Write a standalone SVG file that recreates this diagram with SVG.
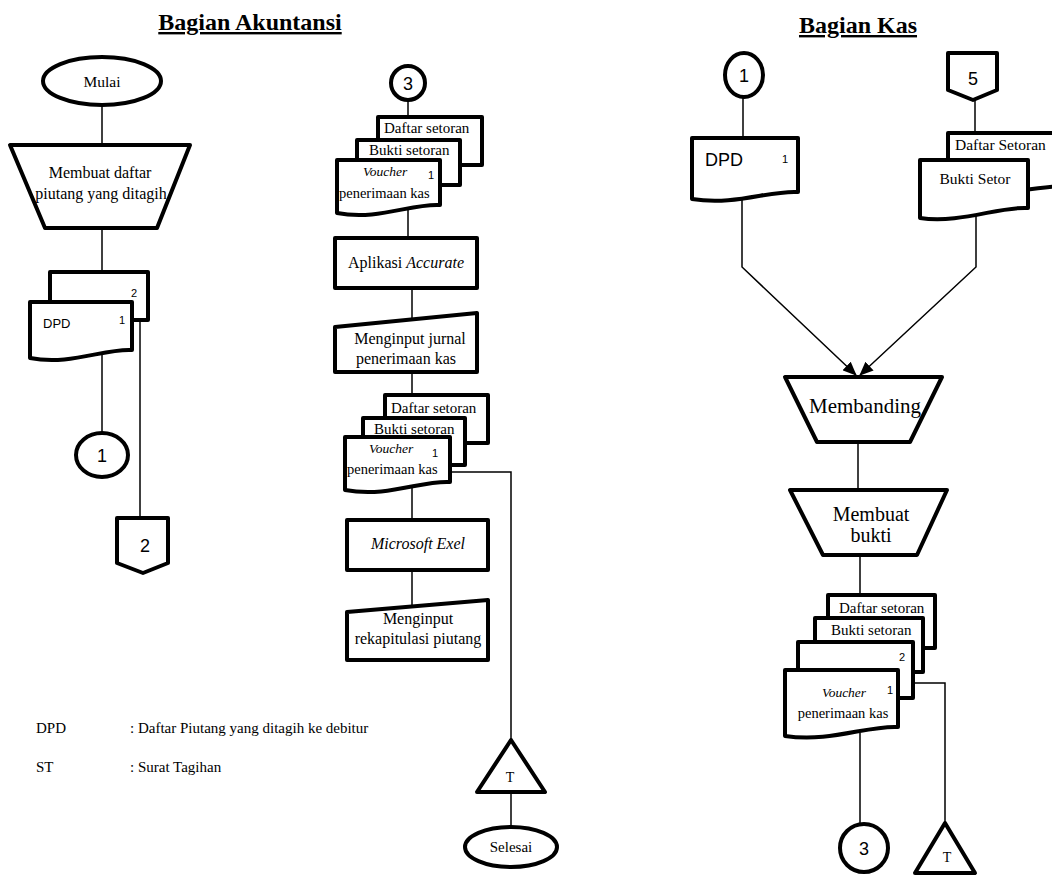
<svg xmlns="http://www.w3.org/2000/svg" width="1052" height="876" viewBox="0 0 1052 876">
<style>
.s{fill:#fff;stroke:#000;stroke-width:4;stroke-linejoin:round}
.c{fill:none;stroke:#000;stroke-width:1.5}
.t{font-family:"Liberation Serif","Times New Roman",serif;fill:#000}
.m{text-anchor:middle}
.i{font-style:italic}
.ss{font-family:"Liberation Sans",Arial,sans-serif;fill:#000}
.h{font-family:"Liberation Serif","Times New Roman",serif;font-weight:bold;font-size:24px;text-decoration:underline;text-anchor:middle}
</style>
<defs>
<marker id="ah" markerUnits="userSpaceOnUse" markerWidth="14" markerHeight="12" refX="13" refY="6" orient="auto"><path d="M0,0 L14,6 L0,12 Z" fill="#000"/></marker>
</defs>
<text class="h" x="250" y="30">Bagian Akuntansi</text>
<text class="h" x="858" y="33">Bagian Kas</text>
<g id="connectors">
<path class="c" d="M102,105 V145"/>
<path class="c" d="M102,228 V272"/>
<path class="c" d="M102,352 V433"/>
<path class="c" d="M140,320 V518"/>
<path class="c" d="M408,100 V117"/>
<path class="c" d="M408,210 V238"/>
<path class="c" d="M412,288 V318"/>
<path class="c" d="M412,372 V437"/>
<path class="c" d="M412,486 V520"/>
<path class="c" d="M412,570 V606"/>
<path class="c" d="M450,472 H511 V740"/>
<path class="c" d="M511,792 V828"/>
<path class="c" d="M743,97 V138"/>
<path class="c" d="M742,198 V267 L856,375" marker-end="url(#ah)"/>
<path class="c" d="M975,100 V133"/>
<path class="c" d="M976,214 V267 L860,375" marker-end="url(#ah)"/>
<path class="c" d="M858,442 V490"/>
<path class="c" d="M860,555 V595"/>
<path class="c" d="M860,733 V824"/>
<path class="c" d="M913,683 H945 V823"/>
</g>
<g id="mulai">
<ellipse class="s" cx="102" cy="81" rx="59" ry="24"/>
<text class="t m" x="102" y="87" font-size="15.5">Mulai</text>
</g>
<g id="membuat-daftar">
<path class="s" d="M10,145 H190 L157,228 H45 Z"/>
<text class="t m" x="100" y="178" font-size="16">Membuat daftar</text>
<text class="t m" x="101" y="199" font-size="16">piutang yang ditagih</text>
</g>
<g id="dpd-left">
<path class="s" d="M50,272 H148 V320 H50 Z"/>
<text class="ss" x="131" y="297" font-size="11">2</text>
<path class="s" d="M30,302 H132 V350 C105,348 70,366 30,358 Z"/>
<text class="ss" x="43" y="328" font-size="13">DPD</text>
<text class="ss" x="119" y="324" font-size="11">1</text>
</g>
<g id="conn1-left">
<ellipse class="s" cx="102" cy="455" rx="26" ry="22"/>
<text class="ss m" x="102" y="462" font-size="18">1</text>
</g>
<g id="offpage2">
<path class="s" d="M117,518 H168 V563 L143,573 L117,563 Z"/>
<text class="ss m" x="145" y="552" font-size="18">2</text>
</g>
<g id="conn3-top">
<circle class="s" cx="408" cy="83" r="17"/>
<text class="ss m" x="408" y="90" font-size="18">3</text>
</g>
<g id="stack1">
<path class="s" d="M378,117 H482 V165 H378 Z"/>
<text class="t" x="384" y="133" font-size="15">Daftar setoran</text>
<path class="s" d="M357,140 H460 V185 H357 Z"/>
<text class="t" x="369" y="155" font-size="15">Bukti setoran</text>
<path class="s" d="M337,160 H440 V205 C412,203 378,221 337,213 Z"/>
<text class="t i" x="363" y="176" font-size="13.5">Voucher</text>
<text class="ss" x="428" y="179" font-size="11">1</text>
<text class="t" x="339" y="198" font-size="14.5">penerimaan kas</text>
</g>
<g id="aplikasi">
<rect class="s" x="335" y="238" width="142" height="50"/>
<text class="t" x="406" y="268" font-size="16" text-anchor="middle">Aplikasi <tspan class="i">Accurate</tspan></text>
</g>
<g id="input-jurnal">
<path class="s" d="M335,327 L477,313 V372 H335 Z"/>
<text class="t m" x="410" y="344" font-size="16">Menginput jurnal</text>
<text class="t m" x="406" y="364" font-size="16">penerimaan kas</text>
</g>
<g id="stack2">
<path class="s" d="M385,395 H488 V443 H385 Z"/>
<text class="t" x="391" y="413" font-size="15">Daftar setoran</text>
<path class="s" d="M363,418 H465 V465 H363 Z"/>
<text class="t" x="374" y="434" font-size="15">Bukti setoran</text>
<path class="s" d="M345,437 H450 V482 C422,480 388,498 345,490 Z"/>
<text class="t i" x="369" y="453" font-size="13.5">Voucher</text>
<text class="ss" x="432" y="457" font-size="11">1</text>
<text class="t" x="347" y="474" font-size="14.5">penerimaan kas</text>
</g>
<g id="excel">
<rect class="s" x="347" y="520" width="141" height="50"/>
<text class="t m i" x="418" y="549" font-size="16">Microsoft Exel</text>
</g>
<g id="input-rekap">
<path class="s" d="M347,612 L488,600 V660 H347 Z"/>
<text class="t m" x="418" y="624" font-size="16">Menginput</text>
<text class="t m" x="418" y="644" font-size="16">rekapitulasi piutang</text>
</g>
<g id="arsip-T-left">
<path class="s" d="M511,740 L545,792 H477 Z"/>
<text class="t m" x="510" y="782" font-size="14">T</text>
</g>
<g id="selesai">
<ellipse class="s" cx="511" cy="847" rx="46" ry="20"/>
<text class="t m" x="511" y="852" font-size="15">Selesai</text>
</g>
<g id="legend">
<text class="t" x="36" y="733" font-size="15">DPD</text>
<text class="t" x="130" y="733" font-size="15">: Daftar Piutang yang ditagih ke debitur</text>
<text class="t" x="36" y="772" font-size="15">ST</text>
<text class="t" x="130" y="772" font-size="15">: Surat Tagihan</text>
</g>
<g id="conn1-right">
<ellipse class="s" cx="744" cy="75" rx="19" ry="22"/>
<text class="ss m" x="744" y="82" font-size="18">1</text>
</g>
<g id="dpd-right">
<path class="s" d="M692,138 H798 V192 C770,190 735,206 692,199 Z"/>
<text class="ss" x="705" y="166" font-size="18">DPD</text>
<text class="ss" x="782" y="163" font-size="11">1</text>
</g>
<g id="offpage5">
<path class="s" d="M948,53 H997 V90 L973,100 L948,90 Z"/>
<text class="ss m" x="973" y="85" font-size="18">5</text>
</g>
<g id="setor-stack">
<path class="s" d="M948,133 H1075 V186 C1040,184 990,200 948,195 Z"/>
<text class="t" x="955" y="150" font-size="15.5">Daftar Setoran</text>
<path class="s" d="M920,160 H1028 V208 C1000,206 960,224 920,218 Z"/>
<text class="t m" x="975" y="184" font-size="15.5">Bukti Setor</text>
</g>
<g id="membanding">
<path class="s" d="M785,377 H942 L910,442 H817 Z"/>
<text class="t m" x="865" y="413" font-size="21">Membanding</text>
</g>
<g id="membuat-bukti">
<path class="s" d="M790,490 H947 L917,555 H823 Z"/>
<text class="t m" x="871" y="521" font-size="20">Membuat</text>
<text class="t m" x="871" y="542" font-size="20">bukti</text>
</g>
<g id="stack3">
<path class="s" d="M828,595 H935 V648 H828 Z"/>
<text class="t" x="839" y="613" font-size="15">Daftar setoran</text>
<path class="s" d="M815,618 H923 V672 H815 Z"/>
<text class="t" x="831" y="635" font-size="15">Bukti setoran</text>
<path class="s" d="M798,642 H913 V698 H798 Z"/>
<text class="ss" x="899" y="661" font-size="11">2</text>
<path class="s" d="M785,670 H898 V727 C868,725 830,743 785,736 Z"/>
<text class="t i m" x="844" y="697" font-size="13.5">Voucher</text>
<text class="ss" x="887" y="694" font-size="11">1</text>
<text class="t m" x="843" y="718" font-size="14.5">penerimaan kas</text>
</g>
<g id="conn3-bottom">
<circle class="s" cx="864" cy="848" r="24"/>
<text class="ss m" x="864" y="855" font-size="18">3</text>
</g>
<g id="arsip-T-right">
<path class="s" d="M945,823 L975,873 H915 Z"/>
<text class="t m" x="947" y="862" font-size="14">T</text>
</g>
</svg>
